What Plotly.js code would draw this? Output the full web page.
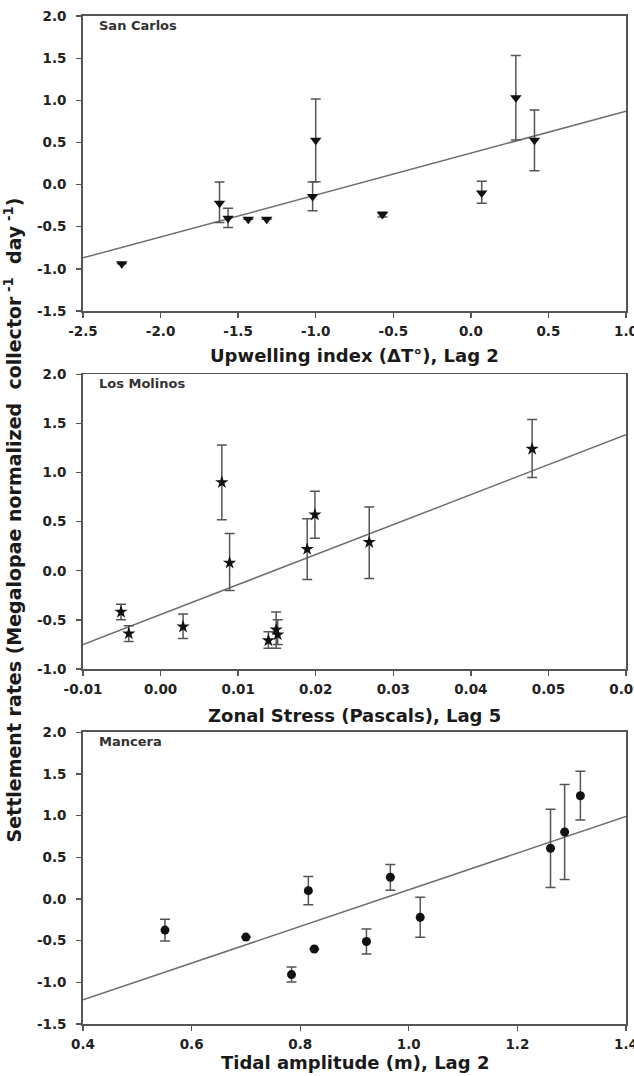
<!DOCTYPE html>
<html>
<head>
<meta charset="utf-8">
<script src="https://cdn.plot.ly/plotly-3.0.1.min.js"></script>
<style>html,body{margin:0;padding:0;background:#fff;}#chart{width:634px;height:1076px;}</style>
</head>
<body>
<div id="chart"></div>
<script>
// ---- San Carlos (Upwelling index, Lag 2) ----
const scX     = [-2.25, -1.62, -1.565, -1.435, -1.316, -1.00, -1.02, -0.57, 0.07, 0.29, 0.41];
const scY     = [-0.94, -0.22, -0.40, -0.41, -0.41, 0.525, -0.14, -0.355, -0.10, 1.03, 0.525];
const scErrUp = [0, 0.25, 0.12, 0, 0, 0.49, 0.17, 0.03, 0.14, 0.50, 0.36];
const scErrDn = [0, 0.23, 0.11, 0, 0, 0.49, 0.17, 0.03, 0.12, 0.50, 0.36];
const scFit   = [0.373, 0.497];   // intercept, slope

// ---- Los Molinos (Zonal Stress, Lag 5) ----
const lmX     = [-0.0051, -0.0041, 0.0029, 0.0079, 0.0089, 0.0139, 0.0149, 0.0151, 0.0189, 0.0199, 0.0269, 0.0479];
const lmY     = [-0.42, -0.64, -0.57, 0.90, 0.08, -0.71, -0.60, -0.65, 0.22, 0.57, 0.29, 1.24];
const lmErrUp = [0.08, 0.08, 0.13, 0.38, 0.30, 0.09, 0.18, 0.15, 0.31, 0.24, 0.36, 0.30];
const lmErrDn = [0.08, 0.08, 0.12, 0.38, 0.28, 0.08, 0.19, 0.10, 0.31, 0.24, 0.37, 0.29];
const lmFit   = [-0.445, 30.5];

// ---- Mancera (Tidal amplitude, Lag 2) ----
const mcX     = [0.551, 0.700, 0.784, 0.815, 0.826, 0.922, 0.966, 1.021, 1.261, 1.287, 1.316];
const mcY     = [-0.373, -0.457, -0.907, 0.10, -0.60, -0.51, 0.26, -0.22, 0.608, 0.804, 1.238];
const mcErrUp = [0.13, 0, 0.09, 0.17, 0, 0.15, 0.155, 0.24, 0.47, 0.57, 0.295];
const mcErrDn = [0.13, 0, 0.09, 0.17, 0, 0.15, 0.155, 0.24, 0.47, 0.57, 0.29];
const mcFit   = [-2.09, 2.2];

// ---- tick labels ----
const xTicks1 = [-2.5, -2.0, -1.5, -1.0, -0.5, 0.0, 0.5, 1.0];
const xLabels1 = ["-2.5", "-2.0", "-1.5", "-1.0", "-0.5", "0.0", "0.5", "1.0"];
const xTicks2 = [-0.01, 0.0, 0.01, 0.02, 0.03, 0.04, 0.05, 0.06];
const xLabels2 = ["-0.01", "0.00", "0.01", "0.02", "0.03", "0.04", "0.05", "0.06"];
const xTicks3 = [0.4, 0.6, 0.8, 1.0, 1.2, 1.4];
const xLabels3 = ["0.4", "0.6", "0.8", "1.0", "1.2", "1.4"];
const yTicksA = [-1.5, -1.0, -0.5, 0.0, 0.5, 1.0, 1.5, 2.0];
const yLabelsA = ["-1.5", "-1.0", "-0.5", "0.0", "0.5", "1.0", "1.5", "2.0"];
const yTicksB = [-1.0, -0.5, 0.0, 0.5, 1.0, 1.5, 2.0];
const yLabelsB = ["-1.0", "-0.5", "0.0", "0.5", "1.0", "1.5", "2.0"];

const panelNames = ["San Carlos", "Los Molinos", "Mancera"];
const xTitles = ["Upwelling index (\u0394T\u00b0), Lag 2", "Zonal Stress (Pascals), Lag 5", "Tidal amplitude (m), Lag 2"];
const yTitle = "Settlement rates (Megalopae normalized\u00a0\u00a0collector<sup> -1</sup>\u00a0\u00a0day<sup> -1</sup>)";

const xRanges = [[-2.5, 1.0], [-0.01, 0.06], [0.4, 1.4]];
const yRanges = [[-1.5, 2.0], [-1.0, 2.0], [-1.5, 2.0]];

const FONT = "DejaVu Sans, Verdana, sans-serif";
const errStyle = {color: "#555", thickness: 1.5, width: 5};

function pts(x, y, up, dn, sym, ax, size) {
  return {
    x: x, y: y, type: "scatter", mode: "markers",
    xaxis: "x" + ax, yaxis: "y" + ax,
    marker: {symbol: sym, color: "#111", size: size},
    error_y: Object.assign({type: "data", symmetric: false, array: up, arrayminus: dn}, errStyle),
    showlegend: false, hoverinfo: "x+y"
  };
}
function fitLine(fit, range, ax) {
  const xs = [range[0], range[1]];
  return {
    x: xs, y: xs.map(v => fit[0] + fit[1] * v), type: "scatter", mode: "lines",
    xaxis: "x" + ax, yaxis: "y" + ax,
    line: {color: "#6e6e6e", width: 1.5}, showlegend: false, hoverinfo: "skip"
  };
}

const data = [
  fitLine(scFit, xRanges[0], ""), pts(scX, scY, scErrUp, scErrDn, "triangle-down", "", 10),
  fitLine(lmFit, xRanges[1], "2"), pts(lmX, lmY, lmErrUp, lmErrDn, "star", "2", 10),
  fitLine(mcFit, xRanges[2], "3"), pts(mcX, mcY, mcErrUp, mcErrDn, "circle", "3", 9)
];

const tickFont = {family: FONT, size: 13.5, color: "#222", weight: "bold"};
function xa(range, tv, tt, anchor) {
  return {
    range: range, tickmode: "array", tickvals: tv, ticktext: tt, anchor: anchor,
    domain: [0, 1], showgrid: false, zeroline: false,
    showline: true, linecolor: "#555", linewidth: 1.8, mirror: true,
    ticks: "outside", ticklen: 5, tickwidth: 1.3, tickcolor: "#555",
    ticklabelstandoff: 2, ticklabeloverflow: "allow", tickfont: tickFont
  };
}
function ya(range, tv, tt, domain, anchor) {
  return {
    range: range, tickmode: "array", tickvals: tv, ticktext: tt, anchor: anchor, domain: domain,
    showgrid: false, zeroline: false,
    showline: true, linecolor: "#555", linewidth: 1.8, mirror: true,
    ticks: "outside", ticklen: 5, tickwidth: 1.3, tickcolor: "#555",
    ticklabelstandoff: 7, ticklabeloverflow: "allow", tickfont: tickFont
  };
}

const titleFont = {family: FONT, size: 18, color: "#1a1a1a", weight: "bold"};
const annotations = [
  {text: xTitles[0], x: 0.5, y: 0.6627},
  {text: xTitles[1], x: 0.5, y: 0.3065},
  {text: xTitles[2], x: 0.5, y: -0.0377}
].map(a => Object.assign(a, {xref: "paper", yref: "paper", xanchor: "center", yanchor: "middle", showarrow: false, font: titleFont}));

annotations.push({
  text: yTitle, x: -0.128, y: 0.5, xref: "paper", yref: "paper", textangle: -90,
  xanchor: "center", yanchor: "middle", showarrow: false,
  font: {family: FONT, size: 19, color: "#1a1a1a", weight: "bold"}
});

["x domain", "x2 domain", "x3 domain"].forEach((xr, i) => {
  annotations.push({
    text: panelNames[i], xref: xr, yref: ["y domain", "y2 domain", "y3 domain"][i],
    x: 0.026, y: 0.968, xanchor: "left", yanchor: "middle", showarrow: false,
    font: {family: FONT, size: 13, color: "#333", weight: "bold"}
  });
});

const layout = {
  width: 634, height: 1076,
  margin: {l: 83, r: 8, t: 16, b: 52},
  paper_bgcolor: "#fff", plot_bgcolor: "#fff",
  showlegend: false,
  xaxis: xa(xRanges[0], xTicks1, xLabels1, "y"),
  yaxis: ya(yRanges[0], yTicksA, yLabelsA, [0.7073, 1], "x"),
  xaxis2: xa(xRanges[1], xTicks2, xLabels2, "y2"),
  yaxis2: ya(yRanges[1], yTicksB, yLabelsB, [0.3522, 0.6445], "x2"),
  xaxis3: xa(xRanges[2], xTicks3, xLabels3, "y3"),
  yaxis3: ya(yRanges[2], yTicksA, yLabelsA, [0, 0.2894], "x3"),
  annotations: annotations
};

Plotly.newPlot("chart", data, layout, {displayModeBar: false, staticPlot: true});
</script>
</body>
</html>
